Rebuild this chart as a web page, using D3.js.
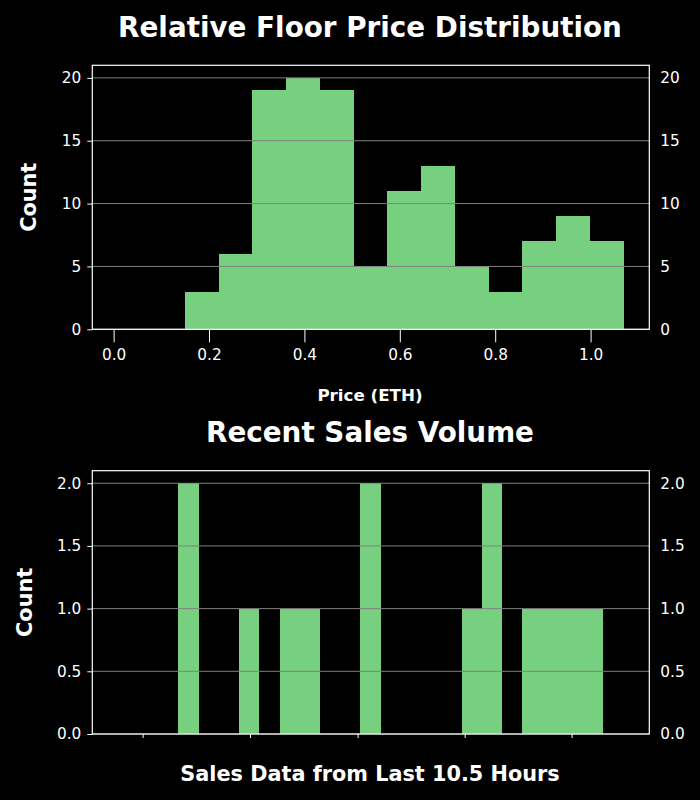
<!DOCTYPE html>
<html>
<head>
<meta charset="utf-8">
<script src="https://cdn.jsdelivr.net/npm/d3@7"></script>
<style>
  body { margin: 0; background: #000; }
  svg { display: block; background: #000; font-family: "DejaVu Sans", sans-serif; }
</style>
</head>
<body>
<svg id="chart" width="700" height="800"></svg>
<script>
// price histogram (ETH) - bin edges and counts
const priceEdges = [0.1503, 0.221, 0.2908, 0.362, 0.4334, 0.5046, 0.5738, 0.645, 0.7163, 0.787, 0.8568, 0.928, 0.9994, 1.0706];
const priceCounts = [3, 6, 19, 20, 19, 5, 11, 13, 5, 3, 7, 9, 7];
const priceTicks = [0.0, 0.2, 0.4, 0.6, 0.8, 1.0];
const priceCountTicks = [0, 5, 10, 15, 20];

// sales volume, half hour bins over the last 10.5 hours
const salesHours = [0, 0.5, 1, 1.5, 2, 2.5, 3, 3.5, 4, 4.5, 5, 5.5, 6, 6.5, 7, 7.5, 8, 8.5, 9, 9.5, 10, 10.5];
const salesCounts = [2, 0, 0, 1, 0, 1, 1, 0, 0, 2, 0, 0, 0, 0, 1, 2, 0, 1, 1, 1, 1];
const salesTicks = [-0.882, 1.771, 4.429, 7.073, 9.716];
const salesCountTicks = [0, 0.5, 1.0, 1.5, 2.0];

const svg = d3.select("#chart");
const green = "#76d07f";
const left = 92.3, right = 649.3;

function drawPanel(opts) {
    const g = svg.append("g");
    const x = d3.scaleLinear().domain(opts.xDomain).range([left, right]);
    const y = d3.scaleLinear().domain(opts.yDomain).range([opts.bottom, opts.top]);

    const bins = opts.counts.map((c, i) => ({x0: opts.edges[i], x1: opts.edges[i + 1], c: c}));

    // bars - crisp edges so neighbouring bins don't show a seam
    g.selectAll("rect.bar")
        .data(bins.filter(d => d.c > 0))
        .join("rect")
        .attr("class", "bar")
        .attr("x", d => Math.round(x(d.x0)))
        .attr("width", d => Math.round(x(d.x1)) - Math.round(x(d.x0)))
        .attr("y", d => y(d.c))
        .attr("height", d => y(0) - y(d.c))
        .attr("fill", green)
        .attr("shape-rendering", "crispEdges");

    // gridlines sit above the bars
    g.selectAll("line.grid")
        .data(opts.yTicks)
        .join("line")
        .attr("class", "grid")
        .attr("x1", left).attr("x2", right)
        .attr("y1", d => y(d)).attr("y2", d => y(d))
        .attr("stroke", "#808080")
        .attr("stroke-width", 1);

    // left axis
    g.append("g")
        .attr("transform", `translate(${left},0)`)
        .call(d3.axisLeft(y).tickValues(opts.yTicks).tickFormat(opts.yFormat).tickSize(5).tickPadding(6))
        .call(a => a.select(".domain").remove());

    // right axis, labels only
    g.append("g")
        .attr("transform", `translate(${right},0)`)
        .call(d3.axisRight(y).tickValues(opts.yTicks).tickFormat(opts.yFormat).tickSize(0).tickPadding(11))
        .call(a => a.select(".domain").remove());

    // bottom axis
    g.append("g")
        .attr("transform", `translate(0,${opts.bottom})`)
        .call(d3.axisBottom(x).tickValues(opts.xTicks).tickFormat(opts.xFormat).tickSize(opts.xTickSize).tickPadding(7))
        .call(a => a.select(".domain").remove());

    g.selectAll(".tick line").attr("stroke", "#fff");
    g.selectAll(".tick text")
        .attr("fill", "#fff")
        .attr("font-size", 15.3)
        .attr("font-family", "DejaVu Sans, sans-serif");

    // frame
    g.append("rect")
        .attr("x", left).attr("y", opts.top)
        .attr("width", right - left).attr("height", opts.bottom - opts.top)
        .attr("fill", "none")
        .attr("stroke", "#fff")
        .attr("stroke-width", 1.2);

    // y label
    g.append("text")
        .attr("transform", `translate(${opts.yLabelX},${(opts.top + opts.bottom) / 2}) rotate(-90)`)
        .attr("text-anchor", "middle")
        .attr("fill", "#fff")
        .attr("font-size", 20.8)
        .attr("font-weight", "bold")
        .text("Count");
}

drawPanel({
    edges: priceEdges, counts: priceCounts,
    xDomain: [-0.0447, 1.1231], yDomain: [0, 21],
    top: 65.3, bottom: 329.3,
    xTicks: priceTicks, xFormat: d3.format(".1f"), xTickSize: 13,
    yTicks: priceCountTicks, yFormat: d3.format("d"),
    yLabelX: 36
});

drawPanel({
    edges: salesHours, counts: salesCounts,
    xDomain: [-2.125, 11.635], yDomain: [0, 2.1],
    top: 470.7, bottom: 734,
    xTicks: salesTicks, xFormat: () => "", xTickSize: 4,
    yTicks: salesCountTicks, yFormat: d3.format(".1f"),
    yLabelX: 32
});

// titles and labels
const texts = [
    {t: "Relative Floor Price Distribution", x: 370, y: 37, s: 27.8},
    {t: "Price (ETH)", x: 370, y: 401, s: 16.7},
    {t: "Recent Sales Volume", x: 370, y: 442, s: 27.8},
    {t: "Sales Data from Last 10.5 Hours", x: 370, y: 781, s: 20.8}
];
svg.selectAll("text.lbl")
    .data(texts)
    .join("text")
    .attr("class", "lbl")
    .attr("x", d => d.x)
    .attr("y", d => d.y)
    .attr("text-anchor", "middle")
    .attr("fill", "#fff")
    .attr("font-weight", "bold")
    .attr("font-size", d => d.s)
    .text(d => d.t);
</script>
</body>
</html>
